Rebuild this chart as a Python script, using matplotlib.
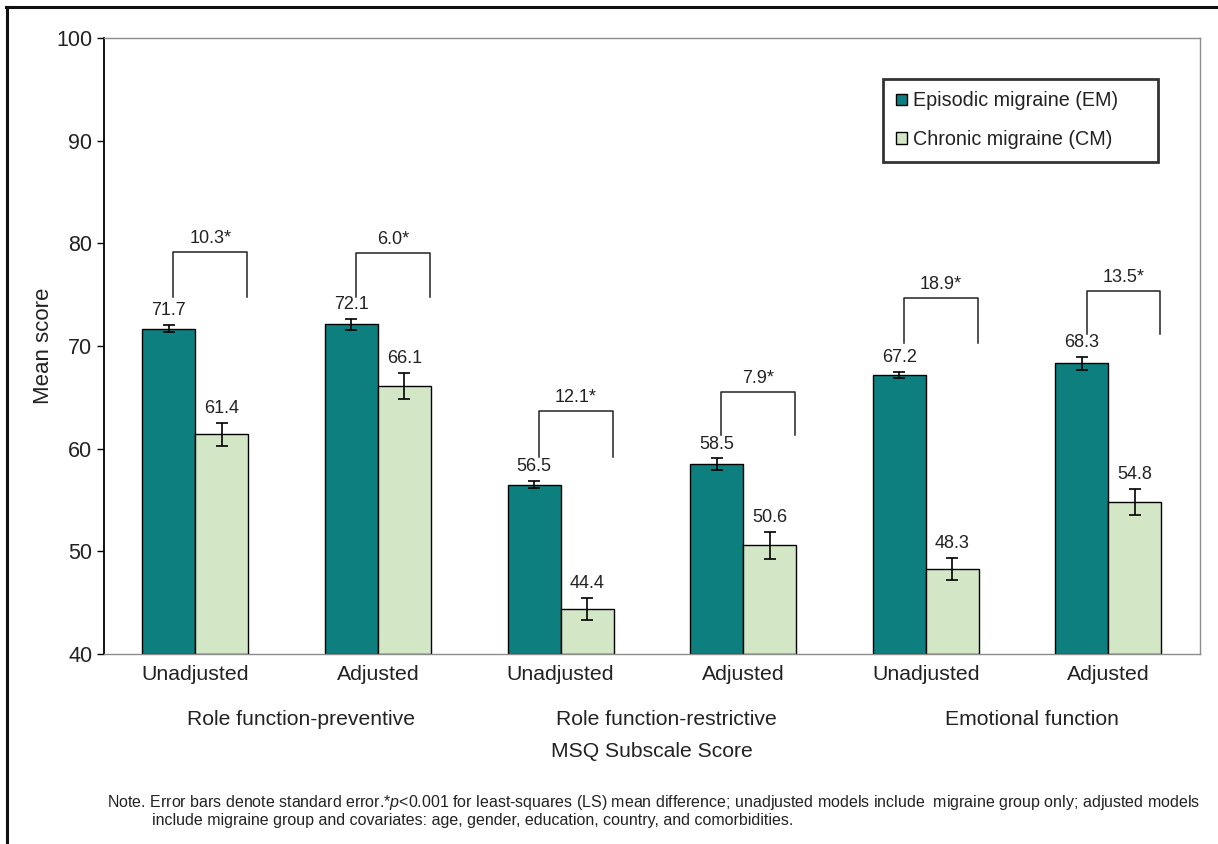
import numpy as np
import matplotlib
matplotlib.use("Agg")
import matplotlib.pyplot as plt
from matplotlib.lines import Line2D

plt.rcParams['font.family'] = ['Liberation Sans', 'DejaVu Sans']
plt.rcParams['mathtext.fontset'] = 'custom'
plt.rcParams['mathtext.rm'] = 'Liberation Sans'
plt.rcParams['mathtext.it'] = 'Liberation Sans:italic'

# data
tick_labels = ["Unadjusted", "Adjusted", "Unadjusted", "Adjusted", "Unadjusted", "Adjusted"]
subscales = ["Role function-preventive", "Role function-restrictive", "Emotional function"]
em_mean = [71.7, 72.1, 56.5, 58.5, 67.2, 68.3]
em_se = [0.35, 0.5, 0.33, 0.55, 0.3, 0.6]
cm_mean = [61.4, 66.1, 44.4, 50.6, 48.3, 54.8]
cm_se = [1.1, 1.25, 1.1, 1.3, 1.1, 1.3]
diff_labels = ["10.3*", "6.0*", "12.1*", "7.9*", "18.9*", "13.5*"]
bracket_top = [79.2, 79.1, 63.7, 65.5, 74.7, 75.4]
bracket_bottom = [74.8, 74.8, 59.2, 61.3, 70.3, 71.2]

em_color = "#0e7f7f"
cm_color = "#d3e7c6"
txt = "#222222"

fig = plt.figure(figsize=(12.18, 8.44), dpi=100)
ax = fig.add_axes([0.0854, 0.2251, 0.8996, 0.7299])

x = np.arange(len(tick_labels))
w = 0.29
ax.bar(x - w / 2, [m - 40 for m in em_mean], w, bottom=40, color=em_color,
       edgecolor="black", linewidth=1, label="Episodic migraine (EM)", zorder=2)
ax.bar(x + w / 2, [m - 40 for m in cm_mean], w, bottom=40, color=cm_color,
       edgecolor="black", linewidth=1, label="Chronic migraine (CM)", zorder=2)
ax.errorbar(x - w / 2, em_mean, yerr=em_se, fmt="none", ecolor="black",
            elinewidth=1.2, capsize=4, capthick=1.2, zorder=3)
ax.errorbar(x + w / 2, cm_mean, yerr=cm_se, fmt="none", ecolor="black",
            elinewidth=1.2, capsize=4, capthick=1.2, zorder=3)

for i in range(len(x)):
    ax.text(x[i] - w / 2, em_mean[i] + em_se[i] + 1.4, f"{em_mean[i]:.1f}",
            ha="center", va="center", fontsize=13, color=txt)
    ax.text(x[i] + w / 2, cm_mean[i] + cm_se[i] + 1.4, f"{cm_mean[i]:.1f}",
            ha="center", va="center", fontsize=13, color=txt)
    xl = x[i] - 0.12
    xr = x[i] + 0.285
    ax.plot([xl, xl, xr, xr], [bracket_bottom[i], bracket_top[i], bracket_top[i], bracket_bottom[i]],
            color="#222222", linewidth=1.1, zorder=3)
    ax.text((xl + xr) / 2, bracket_top[i] + 1.3, diff_labels[i],
            ha="center", va="center", fontsize=13, color=txt)

ax.set_xlim(-0.5, 5.5)
ax.set_ylim(40, 100)
ax.set_yticks(range(40, 101, 10))
ax.set_xticks(x)
ax.set_xticklabels(tick_labels, fontsize=15.3, color=txt)
ax.tick_params(axis="x", length=0, pad=8)
ax.tick_params(axis="y", labelsize=15.5, labelcolor=txt, length=5, width=1)
for side in ["top", "right", "bottom"]:
    ax.spines[side].set_color("#8c8c8c")
    ax.spines[side].set_linewidth(1)
ax.spines["left"].set_color("black")
ax.spines["left"].set_linewidth(1.3)

ax.set_ylabel("Mean score", fontsize=16, color=txt)
ax.yaxis.set_label_coords(-0.046, 0.5)

for k, name in enumerate(subscales):
    ax.text(2 * k + 0.58, 33.6, name, ha="center", va="center",
            fontsize=15.2, color=txt)
ax.text(2.5, 30.5, "MSQ Subscale Score", ha="center", va="center",
        fontsize=15.2, color=txt)

leg = ax.legend(loc="upper left", bbox_to_anchor=(0.711, 0.799, 0.251, 0.135),
                mode="expand", fontsize=14.2,
                frameon=True, fancybox=False, edgecolor="black",
                handlelength=0.55, handleheight=0.55, handletextpad=0.3,
                labelspacing=1.0, borderpad=0.65, borderaxespad=0)
leg.get_frame().set_linewidth(2)
for t in leg.get_texts():
    t.set_color(txt)

fig.text(107 / 1218, 1 - 802 / 844,
         "Note. Error bars denote standard error.*$p$<0.001 for least-squares (LS) mean difference; "
         "unadjusted models include  migraine group only; adjusted models",
         ha="left", va="center", fontsize=11.5, color=txt)
fig.text(152 / 1218, 1 - 820 / 844,
         "include migraine group and covariates: age, gender, education, country, and comorbidities.",
         ha="left", va="center", fontsize=11.5, color=txt)

# image frame on the left and top
fig.add_artist(Line2D([7 / 1218, 7 / 1218], [0, 1 - 7 / 844], color="#111111", linewidth=2.2))
fig.add_artist(Line2D([6 / 1218, 1], [1 - 7 / 844, 1 - 7 / 844], color="#111111", linewidth=2.2))

fig.savefig("out.png", dpi=100)
